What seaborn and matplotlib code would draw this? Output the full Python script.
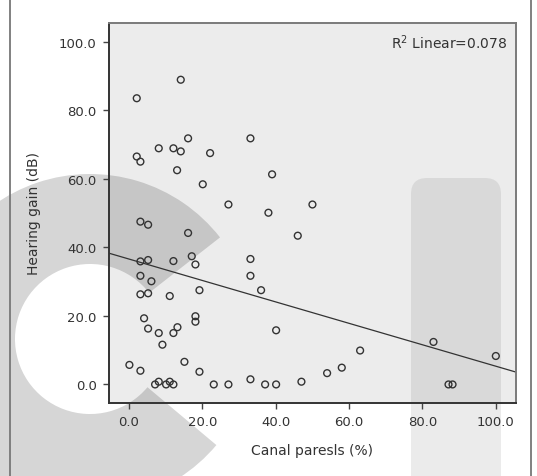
import numpy as np
import pandas as pd
import matplotlib
matplotlib.use("Agg")
import matplotlib.pyplot as plt
import seaborn as sns
from matplotlib.patches import Wedge, FancyBboxPatch, Rectangle

# ---- data ----
canal_paresis = [2.1, 14.1, 16.1, 8.1, 12.1, 14.1, 22.1, 33.1, 2.1, 3.1,
                 13.1, 39.0, 20.1, 27.1, 38.0, 50.0, 3.1, 5.2, 46.0, 16.1,
                 3.1, 5.2, 12.1, 17.1, 18.1, 33.1, 3.1, 6.1, 33.1, 19.2,
                 36.0, 3.1, 5.2, 11.1, 18.1, 18.1, 4.1, 5.2, 13.2, 12.1,
                 8.1, 9.1, 40.1, 0.1, 3.1, 15.1, 19.2, 7.1, 8.1, 10.1,
                 11.1, 12.1, 23.1, 27.1, 33.1, 37.1, 40.1, 47.0, 83.0, 100.0,
                 63.0, 58.0, 54.0, 87.1, 88.2]
hearing_gain = [83.5, 88.9, 71.8, 68.9, 68.9, 68.0, 67.5, 71.8, 66.5, 65.0,
                62.5, 61.3, 58.4, 52.5, 50.1, 52.5, 47.5, 46.6, 43.4, 44.2,
                35.9, 36.3, 36.0, 37.4, 35.0, 36.6, 31.7, 30.1, 31.7, 27.5,
                27.5, 26.3, 26.6, 25.8, 19.9, 18.3, 19.3, 16.3, 16.7, 15.0,
                15.0, 11.6, 15.8, 5.7, 4.0, 6.6, 3.7, 0.0, 0.8, 0.0,
                0.8, 0.0, 0.0, 0.0, 1.5, 0.0, 0.0, 0.8, 12.4, 8.3,
                9.9, 4.9, 3.3, 0.0, 0.0]
x_ticks = [0, 20, 40, 60, 80, 100]
y_ticks = [0, 20, 40, 60, 80, 100]
x_label = "Canal paresls (%)"
y_label = "Hearing gain (dB)"
r2_text = "R$^2$ Linear=0.078"

df = pd.DataFrame({"cp": canal_paresis, "hg": hearing_gain})

sns.set_theme(style="white")
plt.rcParams["font.family"] = ["DejaVu Sans"]

W, H = 537, 477
fig = plt.figure(figsize=(W / 100, H / 100), dpi=100)
fig.patch.set_facecolor("white")

# background layer (pixel coordinates, y measured upward)
bg = fig.add_axes([0, 0, 1, 1], zorder=-1)
bg.set_xlim(0, W)
bg.set_ylim(0, H)
bg.axis("off")

ax_l, ax_r, ax_t, ax_b = 108.5, 516.0, 23.5, 404.3
bg.add_patch(Rectangle((ax_l, H - ax_b), ax_r - ax_l, ax_b - ax_t,
                       facecolor="#ececec", edgecolor="none", zorder=0))
# faint watermark shapes
bg.add_patch(Wedge((90, H - 340), 165, 38, 320, width=90,
                   facecolor="black", alpha=0.16, edgecolor="none", zorder=1))
bg.add_patch(FancyBboxPatch((411, -20), 90, H - 177 + 20 - 2,
                            boxstyle="round,pad=0,rounding_size=16",
                            facecolor="black", alpha=0.08, edgecolor="none", zorder=1))
bg.plot([10, 10], [0, H], color="#777777", lw=1.3, zorder=2)
bg.plot([531, 531], [0, H], color="#777777", lw=1.3, zorder=2)

ax = fig.add_axes([ax_l / W, 1 - ax_b / H, (ax_r - ax_l) / W, (ax_b - ax_t) / H], zorder=1)
ax.set_facecolor("none")
ax.set_xlim(-5.6, 105.5)
ax.set_ylim(-5.5, 105.6)

sns.regplot(data=df, x="cp", y="hg", ax=ax, ci=None, truncate=False,
            scatter_kws=dict(s=24, facecolors="none", edgecolors="#333333",
                             linewidths=1.0, alpha=1, zorder=3),
            line_kws=dict(color="#333333", lw=0.9, zorder=2))

ax.set_xticks(x_ticks)
ax.set_yticks(y_ticks)
ax.set_xticklabels([f"{v:.1f}" for v in x_ticks])
ax.set_yticklabels([f"{v:.1f}" for v in y_ticks])
ax.tick_params(axis="both", direction="out", length=4.5, width=1.0,
               color="#444444", labelsize=9.5, labelcolor="#333333",
               bottom=True, left=True, pad=4)

ax.set_xlabel(x_label, fontsize=10, color="#333333")
ax.set_ylabel(y_label, fontsize=10, color="#333333")
ax.xaxis.set_label_coords(0.5, -0.103)
ax.yaxis.set_label_coords(-0.165, 0.5)

for side in ["left", "bottom"]:
    ax.spines[side].set_color("#333333")
    ax.spines[side].set_linewidth(1.4)
for side in ["top", "right"]:
    ax.spines[side].set_visible(True)
    ax.spines[side].set_color("#7a7a7a")
    ax.spines[side].set_linewidth(1.4)

ax.text(0.978, 0.949, r2_text, transform=ax.transAxes, ha="right", va="center",
        fontsize=10, color="#333333")

fig.savefig("out.png", dpi=100, facecolor="white")
